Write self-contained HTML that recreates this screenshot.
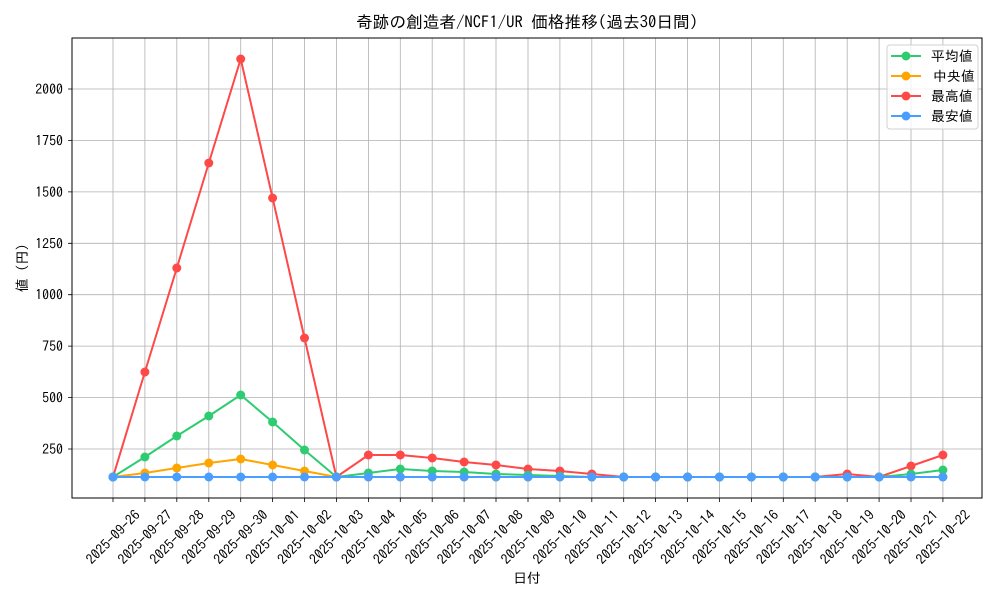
<!DOCTYPE html>
<html><head><meta charset="utf-8"><style>
body{margin:0;background:#fff}
svg{display:block;font-family:"IPAGothic","Liberation Sans","Noto Sans CJK JP",sans-serif}
</style></head><body>
<svg width="1000" height="600" viewBox="0 0 1000 600" xmlns="http://www.w3.org/2000/svg">
<defs>
<marker id="mg" markerUnits="userSpaceOnUse" markerWidth="12" markerHeight="12" refX="6" refY="6"><circle cx="6" cy="6" r="4.5" fill="#2ecc71"/></marker>
<marker id="mo" markerUnits="userSpaceOnUse" markerWidth="12" markerHeight="12" refX="6" refY="6"><circle cx="6" cy="6" r="4.5" fill="#ffa500"/></marker>
<marker id="mr" markerUnits="userSpaceOnUse" markerWidth="12" markerHeight="12" refX="6" refY="6"><circle cx="6" cy="6" r="4.5" fill="#ff4848"/></marker>
<marker id="mb" markerUnits="userSpaceOnUse" markerWidth="12" markerHeight="12" refX="6" refY="6"><circle cx="6" cy="6" r="4.5" fill="#4a9eff"/></marker>
</defs>
<rect width="1000" height="600" fill="#fff"/>
<text x="527" y="28" font-size="16.7" text-anchor="middle">奇跡の創造者/NCF1/UR 価格推移(過去30日間)</text>
<g stroke="#b0b0b0" stroke-width="0.8">
<path d="M113 38V498M144.9 38V498M176.8 38V498M208.8 38V498M240.7 38V498M272.6 38V498M304.5 38V498M336.4 38V498M368.4 38V498M400.3 38V498M432.2 38V498M464.1 38V498M496 38V498M528 38V498M559.9 38V498M591.8 38V498M623.7 38V498M655.6 38V498M687.6 38V498M719.5 38V498M751.4 38V498M783.3 38V498M815.2 38V498M847.2 38V498M879.1 38V498M911 38V498M942.9 38V498"/>
<path d="M72 449H982M72 397.6H982M72 346.1H982M72 294.7H982M72 243.3H982M72 191.9H982M72 140.4H982M72 89H982"/>
</g>
<g stroke="#000" stroke-width="0.8">
<path d="M113 498v4M144.9 498v4M176.8 498v4M208.8 498v4M240.7 498v4M272.6 498v4M304.5 498v4M336.4 498v4M368.4 498v4M400.3 498v4M432.2 498v4M464.1 498v4M496 498v4M528 498v4M559.9 498v4M591.8 498v4M623.7 498v4M655.6 498v4M687.6 498v4M719.5 498v4M751.4 498v4M783.3 498v4M815.2 498v4M847.2 498v4M879.1 498v4M911 498v4M942.9 498v4"/>
<path d="M72 449h-4M72 397.6h-4M72 346.1h-4M72 294.7h-4M72 243.3h-4M72 191.9h-4M72 140.4h-4M72 89h-4"/>
</g>
<g font-size="13.9" text-anchor="end">
<text x="63" y="454">250</text><text x="63" y="402.6">500</text><text x="63" y="351.1">750</text><text x="63" y="299.7">1000</text><text x="63" y="248.3">1250</text><text x="63" y="196.9">1500</text><text x="63" y="145.4">1750</text><text x="63" y="94">2000</text>
</g>
<g font-size="13.9" text-anchor="middle">
<text transform="translate(113,537) rotate(-45)" dy="5">2025-09-26</text>
<text transform="translate(144.9,537) rotate(-45)" dy="5">2025-09-27</text>
<text transform="translate(176.8,537) rotate(-45)" dy="5">2025-09-28</text>
<text transform="translate(208.8,537) rotate(-45)" dy="5">2025-09-29</text>
<text transform="translate(240.7,537) rotate(-45)" dy="5">2025-09-30</text>
<text transform="translate(272.6,537) rotate(-45)" dy="5">2025-10-01</text>
<text transform="translate(304.5,537) rotate(-45)" dy="5">2025-10-02</text>
<text transform="translate(336.4,537) rotate(-45)" dy="5">2025-10-03</text>
<text transform="translate(368.4,537) rotate(-45)" dy="5">2025-10-04</text>
<text transform="translate(400.3,537) rotate(-45)" dy="5">2025-10-05</text>
<text transform="translate(432.2,537) rotate(-45)" dy="5">2025-10-06</text>
<text transform="translate(464.1,537) rotate(-45)" dy="5">2025-10-07</text>
<text transform="translate(496,537) rotate(-45)" dy="5">2025-10-08</text>
<text transform="translate(528,537) rotate(-45)" dy="5">2025-10-09</text>
<text transform="translate(559.9,537) rotate(-45)" dy="5">2025-10-10</text>
<text transform="translate(591.8,537) rotate(-45)" dy="5">2025-10-11</text>
<text transform="translate(623.7,537) rotate(-45)" dy="5">2025-10-12</text>
<text transform="translate(655.6,537) rotate(-45)" dy="5">2025-10-13</text>
<text transform="translate(687.6,537) rotate(-45)" dy="5">2025-10-14</text>
<text transform="translate(719.5,537) rotate(-45)" dy="5">2025-10-15</text>
<text transform="translate(751.4,537) rotate(-45)" dy="5">2025-10-16</text>
<text transform="translate(783.3,537) rotate(-45)" dy="5">2025-10-17</text>
<text transform="translate(815.2,537) rotate(-45)" dy="5">2025-10-18</text>
<text transform="translate(847.2,537) rotate(-45)" dy="5">2025-10-19</text>
<text transform="translate(879.1,537) rotate(-45)" dy="5">2025-10-20</text>
<text transform="translate(911,537) rotate(-45)" dy="5">2025-10-21</text>
<text transform="translate(942.9,537) rotate(-45)" dy="5">2025-10-22</text>
</g>
<text x="527" y="583" font-size="13.9" text-anchor="middle">日付</text>
<text transform="translate(27,268) rotate(-90)" font-size="13.9" text-anchor="middle">値 (円)</text>
<g fill="none" stroke-width="2" stroke-linejoin="round">
<polyline stroke="#ffa500" marker-start="url(#mo)" marker-mid="url(#mo)" marker-end="url(#mo)" points="113,477 144.9,473 176.8,468 208.8,463 240.7,459 272.6,465 304.5,471 336.4,477 368.4,477 400.3,477 432.2,477 464.1,477 496,477 528,477 559.9,477 591.8,477 623.7,477 655.6,477 687.6,477 719.5,477 751.4,477 783.3,477 815.2,477 847.2,477 879.1,477 911,477 942.9,477"/>
<polyline stroke="#ff4848" marker-start="url(#mr)" marker-mid="url(#mr)" marker-end="url(#mr)" points="113,477 144.9,372 176.8,268 208.8,163 240.7,59 272.6,198 304.5,338 336.4,477 368.4,455 400.3,455 432.2,458 464.1,462 496,465 528,469 559.9,471 591.8,474 623.7,477 655.6,477 687.6,477 719.5,477 751.4,477 783.3,477 815.2,477 847.2,474 879.1,477 911,466 942.9,455"/>
<polyline stroke="#2ecc71" marker-start="url(#mg)" marker-mid="url(#mg)" marker-end="url(#mg)" points="113,477 144.9,457 176.8,436 208.8,416 240.7,395 272.6,422 304.5,450 336.4,477 368.4,473 400.3,469 432.2,471 464.1,472 496,474 528,475 559.9,476 591.8,477 623.7,477 655.6,477 687.6,477 719.5,477 751.4,477 783.3,477 815.2,477 847.2,477 879.1,477 911,474 942.9,470"/>
<polyline stroke="#4a9eff" marker-start="url(#mb)" marker-mid="url(#mb)" marker-end="url(#mb)" points="113,477 144.9,477 176.8,477 208.8,477 240.7,477 272.6,477 304.5,477 336.4,477 368.4,477 400.3,477 432.2,477 464.1,477 496,477 528,477 559.9,477 591.8,477 623.7,477 655.6,477 687.6,477 719.5,477 751.4,477 783.3,477 815.2,477 847.2,477 879.1,477 911,477 942.9,477"/>
</g>
<rect x="72" y="38" width="910" height="460" fill="none" stroke="#000" stroke-width="1"/>
<rect x="887" y="45" width="91" height="84" rx="3" fill="#fff" fill-opacity="0.8" stroke="#d0d0d0"/>
<g stroke-width="2">
<line x1="891" y1="56" x2="921" y2="56" stroke="#2ecc71"/><circle cx="906" cy="56" r="4.5" fill="#2ecc71"/>
<line x1="891" y1="76" x2="921" y2="76" stroke="#ffa500"/><circle cx="906" cy="76" r="4.5" fill="#ffa500"/>
<line x1="891" y1="96" x2="921" y2="96" stroke="#ff4848"/><circle cx="906" cy="96" r="4.5" fill="#ff4848"/>
<line x1="891" y1="116" x2="921" y2="116" stroke="#4a9eff"/><circle cx="906" cy="116" r="4.5" fill="#4a9eff"/>
</g>
<g font-size="13.9">
<text x="931" y="61">平均値</text><text x="933" y="81">中央値</text><text x="931" y="101">最高値</text><text x="931" y="121">最安値</text>
</g>
</svg>
</body></html>
